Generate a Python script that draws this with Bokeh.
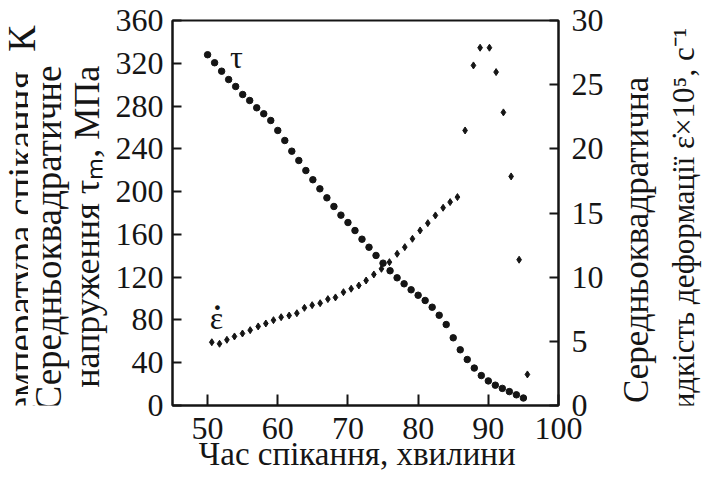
import math
from bokeh.plotting import figure
from bokeh.layouts import row
from bokeh.models import Range1d, LinearAxis, FixedTicker, Label, Text
from bokeh.core.properties import value
from bokeh.embed import file_html
from bokeh.resources import INLINE

# Mean-square stress tau (MPa) sampled each minute of sintering
tau_time = list(range(50, 96))
tau_mpa = [328, 320.5, 312.6, 304.8, 298.3, 290.8, 285.2, 278.4, 272.8, 266.5,
           257.2, 247.8, 237.8, 229.1, 219.7, 211.1, 202.6, 194.2, 186.1, 178.0,
           171.1, 163.6, 155.5, 148.0, 140.3, 133.1, 126.0, 119.4, 113.8, 108.2,
           103.1, 98.2, 91.9, 84.4, 75.7, 63.3, 52.1, 43, 35, 28,
           23, 19, 16, 13, 10, 7]

# Mean-square strain rate (x1e5, 1/s)
eps_time = [50.6, 51.7, 52.75, 53.83, 54.97, 56.07, 57.21, 58.3, 59.39, 60.48,
            61.62, 62.72, 63.8, 64.9, 66.04, 67.14, 68.22, 69.36, 70.46, 71.55,
            72.59, 73.69, 74.77, 75.91, 77.01, 78.1, 79.19, 80.28, 81.38, 82.46,
            83.56, 84.56, 85.6, 86.69, 87.88, 88.83, 90.16, 91.11, 92.15, 93.25,
            94.39, 95.57]
eps_rate = [4.93, 4.81, 5.12, 5.38, 5.61, 5.87, 6.16, 6.39, 6.65, 6.88,
            7.01, 7.19, 7.61, 7.82, 7.97, 8.29, 8.42, 8.83, 9.10, 9.35,
            9.74, 10.21, 10.65, 11.17, 11.82, 12.34, 12.99, 13.64, 14.21, 14.81,
            15.41, 15.85, 16.24, 21.43, 26.50, 27.88, 27.88, 25.98, 22.84, 17.85,
            11.36, 2.42]

x_ticks = [50, 60, 70, 80, 90, 100]
tau_ticks = [0, 40, 80, 120, 160, 200, 240, 280, 320, 360]
eps_ticks = [0, 5, 10, 15, 20, 25, 30]

W, H = 709, 486
LEFT_W = 110            # width of the left caption strip
FL, FR, FT, FB = 172, 558, 20, 405   # plot frame edges in page pixels
MAIN_RIGHT = 50
RIGHT_W = W - FR - MAIN_RIGHT
INK = "#151515"
FONT = "Liberation Serif"
UP = math.pi / 2
NBSP = "\u00a0"

# ---- main chart -------------------------------------------------------------
p = figure(frame_width=FR - FL, frame_height=FB - FT,
           x_range=Range1d(45, 100), y_range=Range1d(0, 360),
           output_backend="svg", toolbar_location=None,
           min_border_left=FL - LEFT_W, min_border_right=MAIN_RIGHT,
           min_border_top=FT, min_border_bottom=H - FB)
p.extra_y_ranges = {"eps": Range1d(0, 30)}
p.xgrid.grid_line_color = None
p.ygrid.grid_line_color = None
p.outline_line_color = INK
p.outline_line_width = 2

right_axis = LinearAxis(y_range_name="eps")
p.add_layout(right_axis, "right")


def style_axis(ax, ticks, standoff):
    ax.ticker = FixedTicker(ticks=ticks)
    ax.axis_line_color = INK
    ax.axis_line_width = 2
    ax.major_tick_line_color = INK
    ax.major_tick_line_width = 2
    ax.major_tick_in = 9
    ax.major_tick_out = 0
    ax.minor_tick_line_color = None
    ax.major_label_text_font = FONT
    ax.major_label_text_font_size = "32px"
    ax.major_label_text_color = INK
    ax.major_label_standoff = standoff


style_axis(p.xaxis[0], x_ticks, 12)
p.xaxis[0].major_tick_in = 11
# trailing no-break spaces nudge the centred caption slightly to the left
p.xaxis[0].axis_label = "Час спікання, хвилини" + NBSP * 2
p.xaxis[0].axis_label_text_font = FONT
p.xaxis[0].axis_label_text_font_size = "33px"
p.xaxis[0].axis_label_text_font_style = "normal"
p.xaxis[0].axis_label_text_color = INK
p.xaxis[0].axis_label_standoff = -6
style_axis(p.yaxis[0], tau_ticks, 9)
style_axis(right_axis, eps_ticks, 13)

p.scatter(tau_time, tau_mpa, marker="circle", size=6.5, color=INK)
p.scatter(eps_time, eps_rate, marker="diamond", size=7, color=INK,
          y_range_name="eps")


def in_frame_label(text, cx, cy, size=32):
    # cx, cy in page pixels; converted to frame-relative screen units
    p.add_layout(Label(x=cx - FL, y=FB - cy, x_units="screen", y_units="screen",
                       text=text, text_align="center", text_baseline="alphabetic",
                       text_font=FONT, text_font_size=f"{size}px", text_color=INK))


in_frame_label("τ", 236, 56)
in_frame_label("ε", 216, 317)
in_frame_label("·", 217, 307, 40)


# ---- caption strips at both sides -------------------------------------------
def strip(width, x0):
    f = figure(width=width, height=H, x_range=Range1d(x0, x0 + width),
               y_range=Range1d(0, H), output_backend="svg", toolbar_location=None,
               x_axis_location=None, y_axis_location=None, min_border=0)
    f.xgrid.grid_line_color = None
    f.ygrid.grid_line_color = None
    f.outline_line_color = None
    return f


HAS_PADDING = "padding" in Text.properties()


def caption(f, text, bx, cy, size, bg=None):
    # bx: baseline anchor (page px), cy: vertical anchor (page px, from top)
    kw = {}
    if bg:
        kw["background_fill_color"] = bg
        if HAS_PADDING:
            kw["padding"] = (10, 0)
    f.text(x=[bx], y=[H - cy], text=[text], angle=UP, text_align="center",
           text_baseline="alphabetic", text_font=value(FONT),
           text_font_size=f"{size}px", text_color=INK, **kw)


left = strip(LEFT_W, 0)
caption(left, "Температура спікання, К", 20.5, 266, 39)
caption(left, "Середньоквадратичне", 48, 274.5, 37, bg="white")
caption(left, "напруження τₘ, МПа", 86, 260.5, 36)

right = strip(RIGHT_W, W - RIGHT_W)
caption(right, "Середньоквадратична", 636, 277, 35)
caption(right, "швидкість деформації ε̇×10⁵, с⁻¹", 683, 274.5, 31)

layout = row(left, p, right)
open("out.html", "w").write(file_html(layout, INLINE))
